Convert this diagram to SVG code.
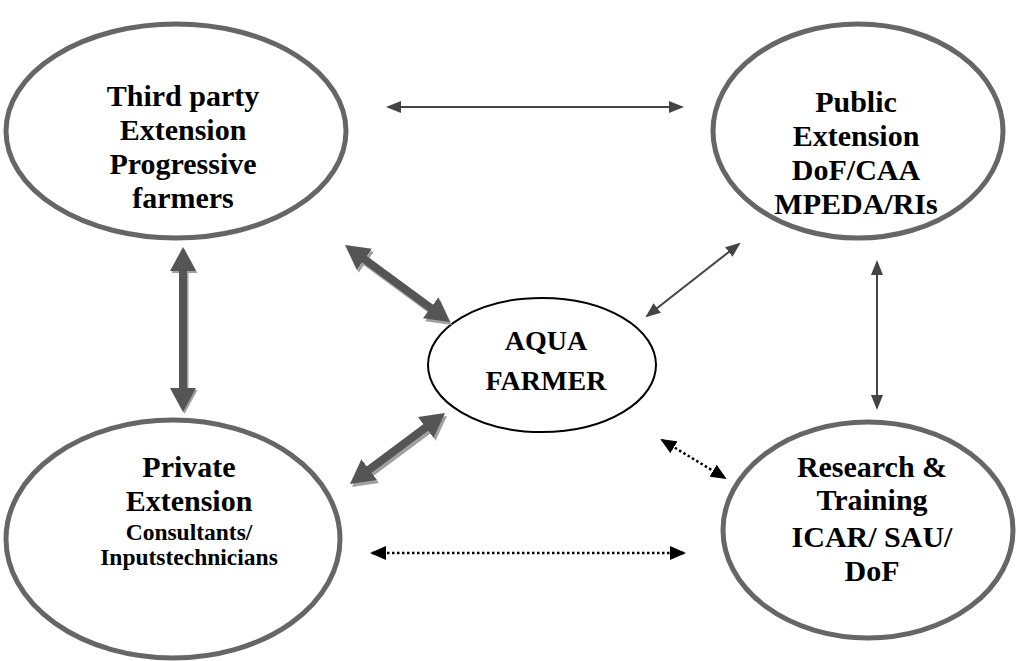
<svg xmlns="http://www.w3.org/2000/svg" width="1019" height="661" viewBox="0 0 1019 661">
<style>
.node{fill:#fff;stroke:#666;stroke-width:5}
.center{fill:#fff;stroke:#000;stroke-width:2}
.t{font-family:"Liberation Serif","Times New Roman",serif;font-weight:bold;fill:#000;text-anchor:middle}
.big{font-size:30px}
.small{font-size:23.5px}
.thick{stroke:#555;stroke-width:8;fill:none}
.shadow{stroke:#a0a0a0;stroke-width:8;fill:none}
.thin{stroke:#444;stroke-width:2;fill:none}
.dot{stroke:#000;stroke-width:2.5;stroke-dasharray:2.5 2.5;fill:none}
</style>
<defs>
<marker id="mThick" viewBox="0 0 24 26" refX="12" refY="13" markerWidth="24" markerHeight="26" markerUnits="userSpaceOnUse" orient="auto-start-reverse"><path d="M0,0 L24,13 L0,26 z" fill="#555"/></marker>
<marker id="mShadow" viewBox="0 0 24 26" refX="12" refY="13" markerWidth="24" markerHeight="26" markerUnits="userSpaceOnUse" orient="auto-start-reverse"><path d="M0,0 L24,13 L0,26 z" fill="#a0a0a0"/></marker>
<marker id="mThin" viewBox="0 0 15 12" refX="13" refY="6" markerWidth="15" markerHeight="12" markerUnits="userSpaceOnUse" orient="auto-start-reverse"><path d="M0,0 L15,6 L0,12 z" fill="#444"/></marker>
<marker id="mDot" viewBox="0 0 16 14" refX="14" refY="7" markerWidth="16" markerHeight="14" markerUnits="userSpaceOnUse" orient="auto-start-reverse"><path d="M0,0 L16,7 L0,14 z" fill="#000"/></marker>
</defs>
<g id="third-party">
<ellipse class="node" cx="176" cy="131" rx="170" ry="107"/>
<text class="t big"><tspan x="183" y="106">Third party</tspan><tspan x="183" y="140">Extension</tspan><tspan x="183" y="174">Progressive</tspan><tspan x="183" y="208">farmers</tspan></text>
</g>
<g id="public-extension">
<ellipse class="node" cx="858" cy="131" rx="145" ry="107"/>
<text class="t big"><tspan x="856" y="112">Public</tspan><tspan x="856" y="146">Extension</tspan><tspan x="856" y="180">DoF/CAA</tspan><tspan x="856" y="214">MPEDA/RIs</tspan></text>
</g>
<g id="aqua-farmer">
<ellipse class="center" cx="542" cy="365" rx="114" ry="67"/>
<text class="t" style="font-size:28px"><tspan x="546" y="350">AQUA</tspan><tspan x="546" y="390">FARMER</tspan></text>
</g>
<g id="private-extension">
<ellipse class="node" cx="173" cy="539" rx="167" ry="119"/>
<text class="t"><tspan class="big" x="189" y="477">Private</tspan><tspan class="big" x="189" y="511">Extension</tspan><tspan class="small" x="189" y="540">Consultants/</tspan><tspan class="small" x="189" y="565">Inputstechnicians</tspan></text>
</g>
<g id="research-training">
<ellipse class="node" cx="868" cy="530" rx="145" ry="108"/>
<text class="t big"><tspan x="872" y="477">Research &amp;</tspan><tspan x="872" y="510">Training</tspan><tspan x="872" y="547">ICAR/ SAU/</tspan><tspan x="872" y="581">DoF</tspan></text>
</g>
<g id="connectors">
<line class="shadow" x1="356.7" y1="255.1" x2="442.3" y2="317.9" marker-start="url(#mShadow)" marker-end="url(#mShadow)"/>
<line class="thick" x1="354.7" y1="252.1" x2="440.3" y2="314.9" marker-start="url(#mThick)" marker-end="url(#mThick)"/>
<line class="shadow" x1="437.4" y1="423.2" x2="361.6" y2="479.8" marker-start="url(#mShadow)" marker-end="url(#mShadow)"/>
<line class="thick" x1="435.4" y1="420.2" x2="359.6" y2="476.8" marker-start="url(#mThick)" marker-end="url(#mThick)"/>
<line class="shadow" x1="184.5" y1="261" x2="184.5" y2="402" marker-start="url(#mShadow)" marker-end="url(#mShadow)"/>
<line class="thick" x1="183" y1="259" x2="183" y2="400" marker-start="url(#mThick)" marker-end="url(#mThick)"/>
<line class="thin" x1="388" y1="107" x2="682" y2="107" marker-start="url(#mThin)" marker-end="url(#mThin)"/>
<line class="thin" x1="739" y1="244" x2="647" y2="316" marker-start="url(#mThin)" marker-end="url(#mThin)"/>
<line class="thin" x1="877" y1="262" x2="877" y2="408" marker-start="url(#mThin)" marker-end="url(#mThin)"/>
<line class="dot" x1="662" y1="440" x2="725" y2="478" marker-start="url(#mDot)" marker-end="url(#mDot)"/>
<line class="dot" x1="372" y1="553" x2="684" y2="553" marker-start="url(#mDot)" marker-end="url(#mDot)"/>
</g>
</svg>
